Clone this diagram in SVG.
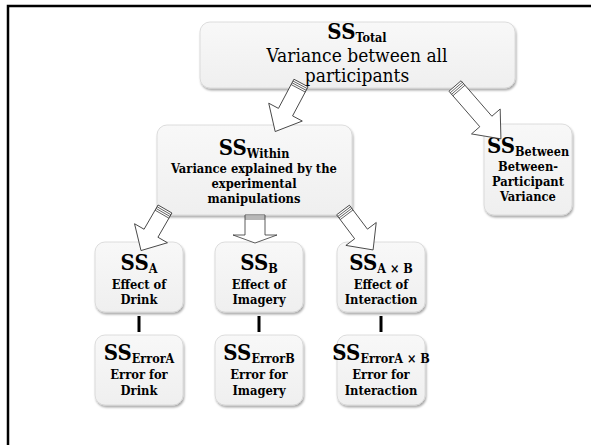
<svg xmlns="http://www.w3.org/2000/svg" width="591" height="445" viewBox="0 0 591 445">
<defs>
<filter id="sh" x="-10%" y="-10%" width="125%" height="130%">
<feDropShadow dx="1" dy="2" stdDeviation="1.2" flood-color="#000" flood-opacity="0.35"/>
</filter>
<linearGradient id="bg" x1="0" y1="0" x2="0" y2="1">
<stop offset="0" stop-color="#f8f8f8"/>
<stop offset="1" stop-color="#efefef"/>
</linearGradient>
</defs>
<style>
.box{fill:url(#bg);stroke:#d6d6d6;stroke-width:0.8;filter:url(#sh)}
text{font-family:"DejaVu Serif Condensed","DejaVu Serif","Liberation Serif",serif;fill:#000;text-anchor:middle}
.b{font-weight:bold;font-size:12.8px}
.ss{font-weight:bold;font-size:22px}
.sub{font-size:12.5px}
.reg{font-size:19px}
.arr polygon{fill:#fff;stroke:#333;stroke-width:0.8}
.arr line{stroke:#333;stroke-width:0.7}
.con{stroke:#000;stroke-width:3}
</style>
<rect width="591" height="445" fill="#fff"/>
<path d="M8,445 V6 H591" fill="none" stroke="#000" stroke-width="2.5"/>

<g id="total">
<rect class="box" x="200" y="22" width="315" height="66" rx="10"/>
<text class="ss" x="357" y="39">SS<tspan class="sub" dy="3">Total</tspan></text>
<text class="reg" x="357" y="62">Variance between all</text>
<text class="reg" x="357" y="82">participants</text>
</g>

<g id="within">
<rect class="box" x="157" y="125" width="195" height="90" rx="10"/>
<text class="ss" x="254" y="155">SS<tspan class="sub" dy="3">Within</tspan></text>
<text class="b" x="254" y="173">Variance explained by the</text>
<text class="b" x="254" y="188">experimental</text>
<text class="b" x="254" y="203">manipulations</text>
</g>

<g id="between">
<rect class="box" x="484" y="124" width="88" height="91" rx="10"/>
<text class="ss" x="528" y="153">SS<tspan class="sub" dy="3">Between</tspan></text>
<text class="b" x="528" y="171">Between-</text>
<text class="b" x="528" y="186">Participant</text>
<text class="b" x="528" y="201">Variance</text>
</g>

<g id="ssA">
<rect class="box" x="95" y="242" width="88" height="70" rx="10"/>
<text class="ss" x="139" y="270">SS<tspan class="sub" dy="3">A</tspan></text>
<text class="b" x="139" y="289">Effect of</text>
<text class="b" x="139" y="304">Drink</text>
</g>

<g id="ssB">
<rect class="box" x="215" y="242" width="88" height="70" rx="10"/>
<text class="ss" x="259" y="270">SS<tspan class="sub" dy="3">B</tspan></text>
<text class="b" x="259" y="289">Effect of</text>
<text class="b" x="259" y="304">Imagery</text>
</g>

<g id="ssAB">
<rect class="box" x="337" y="242" width="88" height="70" rx="10"/>
<text class="ss" x="381" y="270">SS<tspan class="sub" dy="3">A × B</tspan></text>
<text class="b" x="381" y="289">Effect of</text>
<text class="b" x="381" y="304">Interaction</text>
</g>

<g id="errA">
<rect class="box" x="95" y="335" width="88" height="70" rx="10"/>
<text class="ss" x="139" y="360">SS<tspan class="sub" dy="3">ErrorA</tspan></text>
<text class="b" x="139" y="379">Error for</text>
<text class="b" x="139" y="395">Drink</text>
</g>

<g id="errB">
<rect class="box" x="215" y="335" width="88" height="70" rx="10"/>
<text class="ss" x="259" y="360">SS<tspan class="sub" dy="3">ErrorB</tspan></text>
<text class="b" x="259" y="379">Error for</text>
<text class="b" x="259" y="395">Imagery</text>
</g>

<g id="errAB">
<rect class="box" x="337" y="335" width="88" height="70" rx="10"/>
<text class="ss" x="381" y="360">SS<tspan class="sub" dy="3">ErrorA × B</tspan></text>
<text class="b" x="381" y="379">Error for</text>
<text class="b" x="381" y="395">Interaction</text>
</g>

<g id="connectors">
<g class="arr" transform="translate(301,83) rotate(28)">
<polygon points="-8,0 8,0 8,33 19,33 0,55 -19,33 -8,33"/>
<line x1="-8" y1="2" x2="8" y2="2"/><line x1="-8" y1="4" x2="8" y2="4"/><line x1="-8" y1="6" x2="8" y2="6"/>
</g>
<g class="arr" transform="translate(455,86) rotate(-41)">
<polygon points="-8,0 8,0 8,47 19,47 0,70 -19,47 -8,47"/>
<line x1="-8" y1="2" x2="8" y2="2"/><line x1="-8" y1="4" x2="8" y2="4"/><line x1="-8" y1="6" x2="8" y2="6"/>
</g>
<g class="arr" transform="translate(165,209) rotate(30)">
<polygon points="-8,0 8,0 8,28 19,28 0,48 -19,28 -8,28"/>
<line x1="-8" y1="2" x2="8" y2="2"/><line x1="-8" y1="4" x2="8" y2="4"/><line x1="-8" y1="6" x2="8" y2="6"/>
</g>
<g class="arr" transform="translate(343,210) rotate(-37)">
<polygon points="-8,0 8,0 8,30 19,30 0,50 -19,30 -8,30"/>
<line x1="-8" y1="2" x2="8" y2="2"/><line x1="-8" y1="4" x2="8" y2="4"/><line x1="-8" y1="6" x2="8" y2="6"/>
</g>
<g class="arr" transform="translate(255,215)">
<polygon points="-10,0 10,0 10,20 22,20 0,28 -22,20 -10,20"/>
<line x1="-10" y1="2" x2="10" y2="2"/><line x1="-10" y1="4" x2="10" y2="4"/>
</g>
<line class="con" x1="139" y1="316" x2="139" y2="332"/>
<line class="con" x1="259" y1="316" x2="259" y2="332"/>
<line class="con" x1="381" y1="316" x2="381" y2="332"/>
</g>
</svg>
